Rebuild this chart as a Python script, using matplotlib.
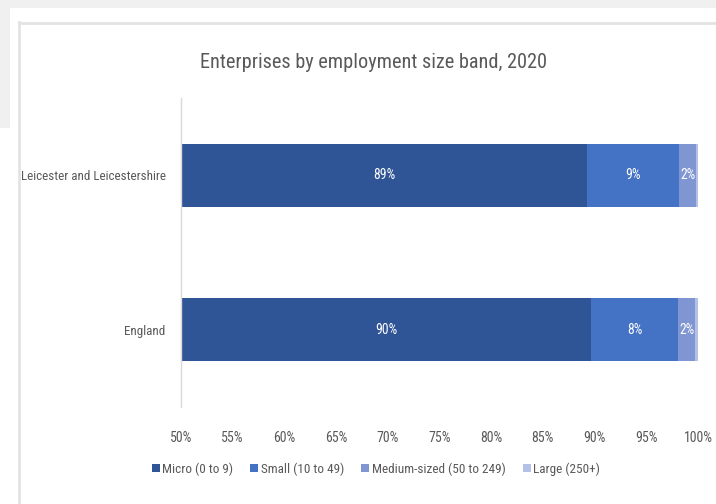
import matplotlib

matplotlib.use("Agg")
import matplotlib.pyplot as plt
from matplotlib import font_manager
from matplotlib.patches import Rectangle

# Share of enterprises (%) by employment size band, 2020
areas = ["Leicester and Leicestershire", "England"]
bands = ["Micro (0 to 9)", "Small (10 to 49)", "Medium-sized (50 to 249)", "Large (250+)"]
micro = [89.3, 89.7]
small = [8.9, 8.4]
medium = [1.6, 1.6]
large = [0.2, 0.3]
labelled = [True, True, True, False]

colors = ["#2f5597", "#4472c4", "#7f96d2", "#b4c0e6"]
text_color = "#595959"

installed = {f.name for f in font_manager.fontManager.ttflist}
family = [f for f in ["Liberation Sans Narrow", "Roboto Condensed", "DejaVu Sans"] if f in installed]
plt.rcParams["font.family"] = family + ["DejaVu Sans"]

W, H = 716, 504
fig = plt.figure(figsize=(W / 100, H / 100), dpi=100)
fig.patch.set_facecolor("white")

# window chrome behind the chart frame
fig.patches.append(Rectangle((0, 1 - 8 / H), 1, 8 / H, transform=fig.transFigure,
                             facecolor="#f0f0f0", edgecolor="none", zorder=0))
fig.patches.append(Rectangle((0, 1 - 128 / H), 10 / W, 128 / H, transform=fig.transFigure,
                             facecolor="#f0f0f0", edgecolor="none", zorder=0))
fig.add_artist(plt.Line2D([19 / W, 19 / W], [0, 1 - 22 / H], transform=fig.transFigure,
                          color="#e3e3e3", lw=2))
fig.add_artist(plt.Line2D([19 / W, 1], [1 - 23 / H, 1 - 23 / H], transform=fig.transFigure,
                          color="#e3e3e3", lw=2))

x0, x1 = 181, 698
y0, y1 = 98, 407
ax = fig.add_axes([x0 / W, 1 - y1 / H, (x1 - x0) / W, (y1 - y0) / H])
ax.set_facecolor("none")

series = [micro, small, medium, large]
ypos = list(range(len(areas)))
left = [50.0] * len(areas)
start = [0.0] * len(areas)
for name, vals, col, show in zip(bands, series, colors, labelled):
    widths = [v if s > 0 else v - 50.0 for v, s in zip(vals, start)]
    bars = ax.barh(ypos, widths, left=left, height=0.41, color=col,
                   edgecolor="none", label=name)
    if show:
        for b, v in zip(bars, vals):
            ax.text(b.get_x() + b.get_width() / 2, b.get_y() + b.get_height() / 2,
                    f"{v:.0f}%", ha="center", va="center", color="white", fontsize=9.8)
    start = [s + v for s, v in zip(start, vals)]
    left = [l + w for l, w in zip(left, widths)]

ax.set_xlim(50, 100)
ax.set_ylim(len(areas) - 0.5, -0.5)
ax.set_xticks(range(50, 101, 5))
ax.set_xticklabels([f"{t}%" for t in range(50, 101, 5)])
ax.set_yticks(ypos)
ax.set_yticklabels(areas)
ax.tick_params(axis="x", length=0, labelsize=10, colors=text_color, pad=17)
ax.tick_params(axis="y", length=0, labelsize=9.4, colors=text_color, pad=11)
for side in ["top", "right", "bottom"]:
    ax.spines[side].set_visible(False)
ax.spines["left"].set_color("#d9d9d9")
ax.spines["left"].set_linewidth(1)

fig.text(373 / W, 1 - 62 / H, "Enterprises by employment size band, 2020",
         ha="center", va="center", fontsize=14.6, color=text_color)

handles, labels = ax.get_legend_handles_labels()
fig.legend(handles, labels, loc="center", bbox_to_anchor=(376 / W, 1 - 469 / H),
           ncol=4, frameon=False, fontsize=9.5, labelcolor=text_color,
           handlelength=0.6, handleheight=0.6, handletextpad=0.2, columnspacing=1.3)

fig.savefig("out.png", dpi=100)
